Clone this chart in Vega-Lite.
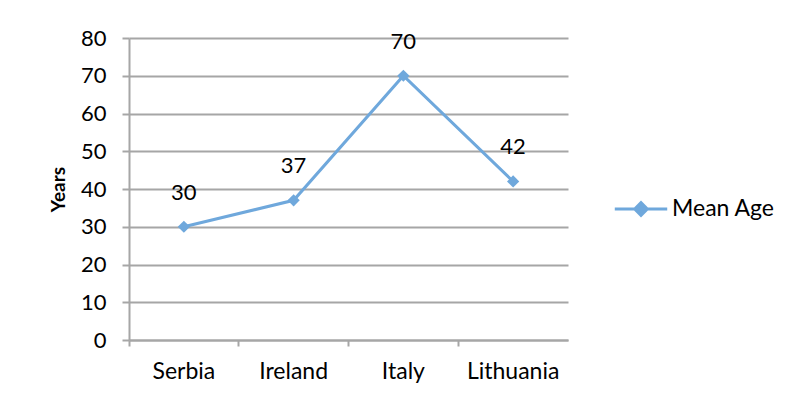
{
  "$schema": "https://vega.github.io/schema/vega-lite/v6.json",
  "autosize": "none",
  "width": 439,
  "height": 302,
  "padding": {"left": 129, "top": 38, "right": 232, "bottom": 61},
  "background": "white",
  "config": {
    "font": "Lato",
    "view": {"stroke": null}
  },
  "data": {
    "values": [
      {"country": "Serbia", "age": 30},
      {"country": "Ireland", "age": 37},
      {"country": "Italy", "age": 70},
      {"country": "Lithuania", "age": 42}
    ]
  },
  "encoding": {
    "x": {
      "field": "country",
      "type": "nominal",
      "sort": null,
      "bandPosition": 0.5,
      "scale": {"type": "band", "paddingInner": 0, "paddingOuter": 0},
      "axis": {
        "title": null,
        "labelAngle": 0,
        "labelFontSize": 23,
        "labelColor": "#000000",
        "labelPadding": 14,
        "bandPosition": 0,
        "domainColor": "#a6a6a6",
        "domainWidth": 2,
        "tickColor": "#a6a6a6",
        "tickWidth": 2,
        "tickSize": 6,
        "grid": false
      }
    },
    "y": {
      "field": "age",
      "type": "quantitative",
      "scale": {"domain": [0, 80], "nice": false},
      "axis": {
        "title": "Years",
        "titleFontSize": 19,
        "titleFontWeight": "bold",
        "titleColor": "#000000",
        "titlePadding": 12,
        "values": [0, 10, 20, 30, 40, 50, 60, 70, 80],
        "labelFontSize": 22,
        "labelColor": "#000000",
        "labelPadding": 16,
        "domainColor": "#a6a6a6",
        "domainWidth": 2,
        "tickColor": "#a6a6a6",
        "tickWidth": 2,
        "tickSize": 7,
        "grid": true,
        "gridColor": "#a6a6a6",
        "gridWidth": 2
      }
    }
  },
  "layer": [
    {
      "mark": {"type": "line", "strokeWidth": 3, "point": {"shape": "diamond", "filled": true, "size": 150}},
      "encoding": {
        "color": {
          "datum": "Mean Age",
          "type": "nominal",
          "scale": {"range": ["#6fa8dc"]},
          "legend": {
            "title": null,
            "orient": "none",
            "legendX": 484,
            "legendY": 143,
            "labelFontSize": 23,
            "labelColor": "#000000",
            "symbolType": "M-1,0L1,0M-0.24,0L0,-0.24L0.24,0L0,0.24Z",
            "symbolSize": 2750,
            "symbolStrokeWidth": 3,
            "symbolFillColor": "#6fa8dc",
            "symbolStrokeColor": "#6fa8dc",
            "labelOffset": 3
          }
        }
      }
    },
    {
      "mark": {"type": "text", "dy": -34, "fontSize": 22, "color": "#000000", "baseline": "middle"},
      "encoding": {"text": {"field": "age", "type": "quantitative"}}
    }
  ]
}
